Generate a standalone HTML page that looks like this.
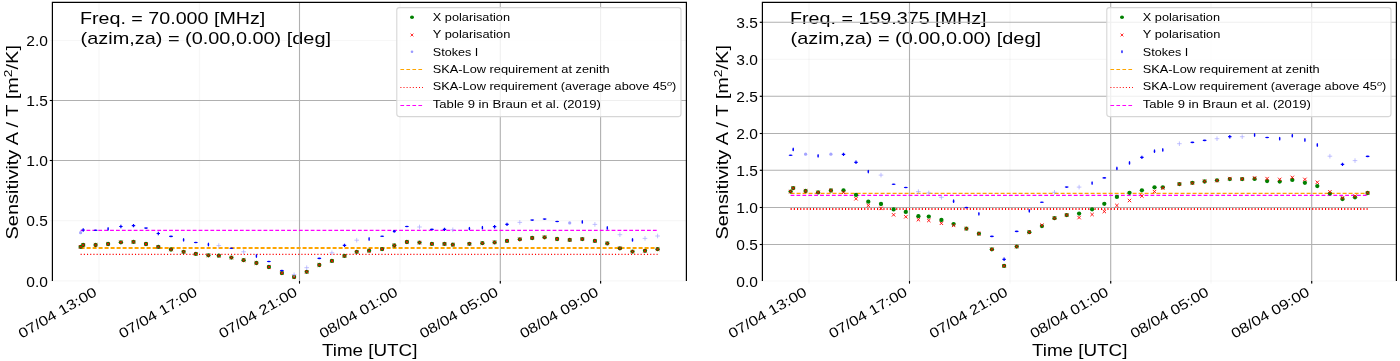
<!DOCTYPE html>
<html><head><meta charset="utf-8"><title>Sensitivity</title><style>html,body{margin:0;padding:0;background:#fff;}svg{display:block;will-change:transform;}</style></head><body>
<svg width="1400" height="361" viewBox="0 0 1400 361" font-family='"Liberation Sans", sans-serif' fill="#000">
<rect width="1400" height="361" fill="#fff"/>
<text x="80" y="23.6" font-size="17" text-anchor="start" textLength="185.3" lengthAdjust="spacingAndGlyphs" >Freq. = 70.000 [MHz]</text>
<text x="80.6" y="43.5" font-size="17" text-anchor="start" textLength="250.4" lengthAdjust="spacingAndGlyphs" >(azim,za) = (0.00,0.00) [deg]</text>
<path d="M49.8 280.9H686.4" stroke="#b0b0b0" stroke-opacity="0.1" stroke-width="1.1"/>
<path d="M49.8 220.6H686.4" stroke="#b0b0b0" stroke-opacity="0.1" stroke-width="1.1"/>
<path d="M49.8 160.5H686.4" stroke="#b0b0b0" stroke-width="1.1"/>
<path d="M49.8 160.5H52.4" stroke="#000" stroke-width="1.1"/>
<path d="M49.8 100.5H686.4" stroke="#b0b0b0" stroke-width="1.1"/>
<path d="M49.8 100.5H52.4" stroke="#000" stroke-width="1.1"/>
<path d="M49.8 40.5H686.4" stroke="#b0b0b0" stroke-opacity="0.1" stroke-width="1.1"/>
<path d="M99 2.4V283.6" stroke="#b0b0b0" stroke-opacity="0.1" stroke-width="1.1"/>
<path d="M199.5 2.4V283.6" stroke="#b0b0b0" stroke-opacity="0.1" stroke-width="1.1"/>
<path d="M299.5 2.4V283.6" stroke="#b0b0b0" stroke-width="1.1"/>
<path d="M299.5 281V283.6" stroke="#000" stroke-width="1.1"/>
<path d="M400 2.4V283.6" stroke="#b0b0b0" stroke-opacity="0.1" stroke-width="1.1"/>
<path d="M500.3 2.4V283.6" stroke="#b0b0b0" stroke-width="1.1"/>
<path d="M500.3 281V283.6" stroke="#000" stroke-width="1.1"/>
<path d="M600.6 2.4V283.6" stroke="#b0b0b0" stroke-width="1.1"/>
<path d="M600.6 281V283.6" stroke="#000" stroke-width="1.1"/>
<path d="M52.4 281V2.4H686.4V281" fill="none" stroke="#000" stroke-width="1.2"/>
<path d="M80.6 247.9H657.6" stroke="#ffa500" stroke-width="2.0" stroke-dasharray="4 2"/>
<path d="M80.6 254.4H657.6" stroke="#ff0000" stroke-width="1.1" stroke-dasharray="1.1 2.1"/>
<path d="M80.6 230.4H657.6" stroke="#ff00ff" stroke-width="1.1" stroke-dasharray="3.8 2.1"/>
<circle cx="80.6" cy="246.9" r="2.15" fill="#008000"/>
<path d="M78.9 245.2L82.3 248.6M78.9 248.6L82.3 245.2" stroke="#ff0000" stroke-width="0.9"/>
<circle cx="80.6" cy="232.7" r="1.6" fill="#a4a4ff"/>
<circle cx="83.2" cy="245" r="2.15" fill="#008000"/>
<path d="M81.5 243.3L84.9 246.7M81.5 246.7L84.9 243.3" stroke="#ff0000" stroke-width="0.9"/>
<path d="M81.5 230H84.9M83.2 228.3V231.7" stroke="#0000ff" stroke-width="1.2"/>
<circle cx="95.6" cy="245" r="2.15" fill="#008000"/>
<path d="M93.9 243.3L97.3 246.7M93.9 246.7L97.3 243.3" stroke="#ff0000" stroke-width="0.9"/>
<ellipse cx="95.6" cy="230.3" rx="2" ry="0.8" fill="#0000ff"/>
<circle cx="108.1" cy="244" r="2.15" fill="#008000"/>
<path d="M106.4 242.3L109.8 245.7M106.4 245.7L109.8 242.3" stroke="#ff0000" stroke-width="0.9"/>
<ellipse cx="108.1" cy="228.8" rx="0.8" ry="1.9" fill="#0000ff"/>
<circle cx="120.9" cy="242.3" r="2.15" fill="#008000"/>
<path d="M119.2 240.6L122.6 244M119.2 244L122.6 240.6" stroke="#ff0000" stroke-width="0.9"/>
<path d="M119.2 226.5H122.6M120.9 224.8V228.2" stroke="#0000ff" stroke-width="1.2"/>
<circle cx="133.5" cy="241.9" r="2.15" fill="#008000"/>
<path d="M131.8 240.2L135.2 243.6M131.8 243.6L135.2 240.2" stroke="#ff0000" stroke-width="0.9"/>
<path d="M131.8 225.6H135.2M133.5 223.9V227.3" stroke="#0000ff" stroke-width="1.2"/>
<circle cx="146" cy="244" r="2.15" fill="#008000"/>
<path d="M144.3 242.3L147.7 245.7M144.3 245.7L147.7 242.3" stroke="#ff0000" stroke-width="0.9"/>
<ellipse cx="146" cy="228.1" rx="2" ry="0.8" fill="#0000ff"/>
<circle cx="158.3" cy="246.9" r="2.15" fill="#008000"/>
<path d="M156.6 245.2L160 248.6M156.6 248.6L160 245.2" stroke="#ff0000" stroke-width="0.9"/>
<path d="M156.6 233.5H160M158.3 231.8V235.2" stroke="#0000ff" stroke-width="1.2"/>
<circle cx="171" cy="249.5" r="2.15" fill="#008000"/>
<path d="M169.3 247.8L172.7 251.2M169.3 251.2L172.7 247.8" stroke="#ff0000" stroke-width="0.9"/>
<ellipse cx="171" cy="236.4" rx="2" ry="0.8" fill="#0000ff"/>
<circle cx="183.6" cy="251.8" r="2.15" fill="#008000"/>
<path d="M181.9 250.1L185.3 253.5M181.9 253.5L185.3 250.1" stroke="#ff0000" stroke-width="0.9"/>
<ellipse cx="183.6" cy="239.8" rx="0.8" ry="1.9" fill="#0000ff"/>
<circle cx="195.8" cy="253.8" r="2.15" fill="#008000"/>
<path d="M194.1 252.1L197.5 255.5M194.1 255.5L197.5 252.1" stroke="#ff0000" stroke-width="0.9"/>
<ellipse cx="195.8" cy="242.5" rx="2" ry="0.8" fill="#0000ff"/>
<circle cx="208.4" cy="255.3" r="2.15" fill="#008000"/>
<path d="M206.7 253.6L210.1 257M206.7 257L210.1 253.6" stroke="#ff0000" stroke-width="0.9"/>
<ellipse cx="208.4" cy="244.5" rx="0.8" ry="1.9" fill="#0000ff"/>
<circle cx="218.8" cy="255.7" r="2.15" fill="#008000"/>
<path d="M217.1 254L220.5 257.4M217.1 257.4L220.5 254" stroke="#ff0000" stroke-width="0.9"/>
<path d="M216.5 245.6H221.1M218.8 243.3V247.9" stroke="#a8a8ff" stroke-width="0.7"/>
<circle cx="231.4" cy="257.6" r="2.15" fill="#008000"/>
<path d="M229.7 255.9L233.1 259.3M229.7 259.3L233.1 255.9" stroke="#ff0000" stroke-width="0.9"/>
<ellipse cx="231.4" cy="248.3" rx="2" ry="0.8" fill="#0000ff"/>
<circle cx="243.6" cy="260.2" r="2.15" fill="#008000"/>
<path d="M241.9 258.5L245.3 261.9M241.9 261.9L245.3 258.5" stroke="#ff0000" stroke-width="0.9"/>
<path d="M241.3 251.8H245.9M243.6 249.5V254.1" stroke="#a8a8ff" stroke-width="0.7"/>
<circle cx="256.4" cy="263" r="2.15" fill="#008000"/>
<path d="M254.7 261.3L258.1 264.7M254.7 264.7L258.1 261.3" stroke="#ff0000" stroke-width="0.9"/>
<ellipse cx="256.4" cy="256" rx="0.8" ry="1.9" fill="#0000ff"/>
<circle cx="268.9" cy="267" r="2.15" fill="#008000"/>
<path d="M267.2 265.3L270.6 268.7M267.2 268.7L270.6 265.3" stroke="#ff0000" stroke-width="0.9"/>
<ellipse cx="268.9" cy="261.5" rx="2" ry="0.8" fill="#0000ff"/>
<circle cx="281.9" cy="273.1" r="2.15" fill="#008000"/>
<path d="M280.2 271.4L283.6 274.8M280.2 274.8L283.6 271.4" stroke="#ff0000" stroke-width="0.9"/>
<ellipse cx="281.9" cy="270.6" rx="2" ry="0.8" fill="#0000ff"/>
<circle cx="294.1" cy="277" r="2.15" fill="#008000"/>
<path d="M292.4 275.3L295.8 278.7M292.4 278.7L295.8 275.3" stroke="#ff0000" stroke-width="0.9"/>
<path d="M291.8 274.7H296.4M294.1 272.4V277" stroke="#a8a8ff" stroke-width="0.7"/>
<circle cx="306.7" cy="271.8" r="2.15" fill="#008000"/>
<path d="M305 270.1L308.4 273.5M305 273.5L308.4 270.1" stroke="#ff0000" stroke-width="0.9"/>
<path d="M304.4 267.7H309M306.7 265.4V270" stroke="#a8a8ff" stroke-width="0.7"/>
<circle cx="319.3" cy="265" r="2.15" fill="#008000"/>
<path d="M317.6 263.3L321 266.7M317.6 266.7L321 263.3" stroke="#ff0000" stroke-width="0.9"/>
<ellipse cx="319.3" cy="258.4" rx="2" ry="0.8" fill="#0000ff"/>
<circle cx="331.9" cy="260.9" r="2.15" fill="#008000"/>
<path d="M330.2 259.2L333.6 262.6M330.2 262.6L333.6 259.2" stroke="#ff0000" stroke-width="0.9"/>
<path d="M329.6 252.8H334.2M331.9 250.5V255.1" stroke="#a8a8ff" stroke-width="0.7"/>
<circle cx="344.5" cy="255.9" r="2.15" fill="#008000"/>
<path d="M342.8 254.2L346.2 257.6M342.8 257.6L346.2 254.2" stroke="#ff0000" stroke-width="0.9"/>
<path d="M342.8 245.4H346.2M344.5 243.7V247.1" stroke="#0000ff" stroke-width="1.2"/>
<circle cx="356.7" cy="251.8" r="2.15" fill="#008000"/>
<path d="M355 250.1L358.4 253.5M355 253.5L358.4 250.1" stroke="#ff0000" stroke-width="0.9"/>
<path d="M354.4 240.2H359M356.7 237.9V242.5" stroke="#a8a8ff" stroke-width="0.7"/>
<circle cx="369.1" cy="250.7" r="2.15" fill="#008000"/>
<path d="M367.4 249L370.8 252.4M367.4 252.4L370.8 249" stroke="#ff0000" stroke-width="0.9"/>
<ellipse cx="369.1" cy="239" rx="0.8" ry="1.9" fill="#0000ff"/>
<circle cx="382.1" cy="249.1" r="2.15" fill="#008000"/>
<path d="M380.4 247.4L383.8 250.8M380.4 250.8L383.8 247.4" stroke="#ff0000" stroke-width="0.9"/>
<ellipse cx="382.1" cy="236.2" rx="2" ry="0.8" fill="#0000ff"/>
<circle cx="394.3" cy="245.5" r="2.15" fill="#008000"/>
<path d="M392.6 243.8L396 247.2M392.6 247.2L396 243.8" stroke="#ff0000" stroke-width="0.9"/>
<ellipse cx="394.3" cy="231.3" rx="1.4" ry="1.4" fill="#0000ff"/>
<circle cx="406.9" cy="242" r="2.15" fill="#008000"/>
<path d="M405.2 240.3L408.6 243.7M405.2 243.7L408.6 240.3" stroke="#ff0000" stroke-width="0.9"/>
<ellipse cx="406.9" cy="226.5" rx="2" ry="0.8" fill="#0000ff"/>
<circle cx="419.5" cy="242.6" r="2.15" fill="#008000"/>
<path d="M417.8 240.9L421.2 244.3M417.8 244.3L421.2 240.9" stroke="#ff0000" stroke-width="0.9"/>
<path d="M417.2 227H421.8M419.5 224.7V229.3" stroke="#a8a8ff" stroke-width="0.7"/>
<circle cx="431.9" cy="243.9" r="2.15" fill="#008000"/>
<path d="M430.2 242.2L433.6 245.6M430.2 245.6L433.6 242.2" stroke="#ff0000" stroke-width="0.9"/>
<ellipse cx="431.9" cy="229.4" rx="2" ry="0.8" fill="#0000ff"/>
<circle cx="444.5" cy="243.9" r="2.15" fill="#008000"/>
<path d="M442.8 242.2L446.2 245.6M442.8 245.6L446.2 242.2" stroke="#ff0000" stroke-width="0.9"/>
<path d="M442.8 229.4H446.2M444.5 227.7V231.1" stroke="#0000ff" stroke-width="1.2"/>
<circle cx="452.8" cy="244.7" r="2.15" fill="#008000"/>
<path d="M451.1 243L454.5 246.4M451.1 246.4L454.5 243" stroke="#ff0000" stroke-width="0.9"/>
<path d="M450.5 229.8H455.1M452.8 227.5V232.1" stroke="#a8a8ff" stroke-width="0.7"/>
<circle cx="469.4" cy="243.8" r="2.15" fill="#008000"/>
<path d="M467.7 242.1L471.1 245.5M467.7 245.5L471.1 242.1" stroke="#ff0000" stroke-width="0.9"/>
<ellipse cx="469.4" cy="228.6" rx="0.8" ry="1.9" fill="#0000ff"/>
<circle cx="482.4" cy="243.2" r="2.15" fill="#008000"/>
<path d="M480.7 241.5L484.1 244.9M480.7 244.9L484.1 241.5" stroke="#ff0000" stroke-width="0.9"/>
<ellipse cx="482.4" cy="227.7" rx="0.8" ry="1.9" fill="#0000ff"/>
<circle cx="494.6" cy="242.4" r="2.15" fill="#008000"/>
<path d="M492.9 240.7L496.3 244.1M492.9 244.1L496.3 240.7" stroke="#ff0000" stroke-width="0.9"/>
<path d="M492.9 226.7H496.3M494.6 225V228.4" stroke="#0000ff" stroke-width="1.2"/>
<circle cx="507" cy="240.9" r="2.15" fill="#008000"/>
<path d="M505.3 239.2L508.7 242.6M505.3 242.6L508.7 239.2" stroke="#ff0000" stroke-width="0.9"/>
<path d="M505.3 224.4H508.7M507 222.7V226.1" stroke="#0000ff" stroke-width="1.2"/>
<circle cx="519.8" cy="239.3" r="2.15" fill="#008000"/>
<path d="M518.1 237.6L521.5 241M518.1 241L521.5 237.6" stroke="#ff0000" stroke-width="0.9"/>
<path d="M517.5 222.4H522.1M519.8 220.1V224.7" stroke="#a8a8ff" stroke-width="0.7"/>
<circle cx="532.2" cy="238" r="2.15" fill="#008000"/>
<path d="M530.5 236.3L533.9 239.7M530.5 239.7L533.9 236.3" stroke="#ff0000" stroke-width="0.9"/>
<ellipse cx="532.2" cy="220.1" rx="2" ry="0.8" fill="#0000ff"/>
<circle cx="544.6" cy="237.3" r="2.15" fill="#008000"/>
<path d="M542.9 235.6L546.3 239M542.9 239L546.3 235.6" stroke="#ff0000" stroke-width="0.9"/>
<ellipse cx="544.6" cy="219.1" rx="2" ry="0.8" fill="#0000ff"/>
<circle cx="557.1" cy="239" r="2.15" fill="#008000"/>
<path d="M555.4 237.3L558.8 240.7M555.4 240.7L558.8 237.3" stroke="#ff0000" stroke-width="0.9"/>
<ellipse cx="557.1" cy="221.5" rx="2" ry="0.8" fill="#0000ff"/>
<circle cx="569.7" cy="239.9" r="2.15" fill="#008000"/>
<path d="M568 238.2L571.4 241.6M568 241.6L571.4 238.2" stroke="#ff0000" stroke-width="0.9"/>
<circle cx="569.7" cy="222.9" r="1.6" fill="#a4a4ff"/>
<circle cx="582.3" cy="239.1" r="2.15" fill="#008000"/>
<path d="M580.6 237.4L584 240.8M580.6 240.8L584 237.4" stroke="#ff0000" stroke-width="0.9"/>
<ellipse cx="582.3" cy="221.9" rx="0.8" ry="1.9" fill="#0000ff"/>
<circle cx="594.9" cy="240.9" r="2.15" fill="#008000"/>
<path d="M593.2 239.2L596.6 242.6M593.2 242.6L596.6 239.2" stroke="#ff0000" stroke-width="0.9"/>
<path d="M592.6 224.4H597.2M594.9 222.1V226.7" stroke="#a8a8ff" stroke-width="0.7"/>
<circle cx="607.3" cy="243.4" r="2.15" fill="#008000"/>
<path d="M605.6 241.7L609 245.1M605.6 245.1L609 241.7" stroke="#ff0000" stroke-width="0.9"/>
<ellipse cx="607.3" cy="227.9" rx="0.8" ry="1.9" fill="#0000ff"/>
<circle cx="619.9" cy="248.3" r="2.15" fill="#008000"/>
<path d="M618.2 246.6L621.6 250M618.2 250L621.6 246.6" stroke="#ff0000" stroke-width="0.9"/>
<path d="M617.6 234.7H622.2M619.9 232.4V237" stroke="#a8a8ff" stroke-width="0.7"/>
<circle cx="632.5" cy="251.6" r="2.15" fill="#008000"/>
<path d="M630.8 249.9L634.2 253.3M630.8 253.3L634.2 249.9" stroke="#ff0000" stroke-width="0.9"/>
<ellipse cx="632.5" cy="239.9" rx="0.8" ry="1.9" fill="#0000ff"/>
<circle cx="645" cy="250.8" r="2.15" fill="#008000"/>
<path d="M643.3 249.1L646.7 252.5M643.3 252.5L646.7 249.1" stroke="#ff0000" stroke-width="0.9"/>
<path d="M642.7 238.4H647.3M645 236.1V240.7" stroke="#a8a8ff" stroke-width="0.7"/>
<circle cx="657.6" cy="249.2" r="2.15" fill="#008000"/>
<path d="M655.9 247.5L659.3 250.9M655.9 250.9L659.3 247.5" stroke="#ff0000" stroke-width="0.9"/>
<path d="M655.3 236H659.9M657.6 233.7V238.3" stroke="#a8a8ff" stroke-width="0.7"/>
<rect x="396.8" y="7.6" width="284.2" height="109" rx="2.5" fill="#fff" fill-opacity="0.8" stroke="#d6d6d6" stroke-width="1.1"/>
<text x="432.8" y="21" font-size="11.1" text-anchor="start" textLength="77.2" lengthAdjust="spacingAndGlyphs" >X polarisation</text>
<text x="432.8" y="38.4" font-size="11.1" text-anchor="start" textLength="77.5" lengthAdjust="spacingAndGlyphs" >Y polarisation</text>
<text x="432.8" y="55.6" font-size="11.1" text-anchor="start" textLength="45.5" lengthAdjust="spacingAndGlyphs" >Stokes I</text>
<text x="432.8" y="72.9" font-size="11.1" text-anchor="start" textLength="176.8" lengthAdjust="spacingAndGlyphs" >SKA-Low requirement at zenith</text>
<text x="432.8" y="90.2" font-size="11.1" text-anchor="start" textLength="243.5" lengthAdjust="spacingAndGlyphs" >SKA-Low requirement (average above 45<tspan font-size="8" dy="-4" font-style="italic">o</tspan><tspan dy="4">)</tspan></text>
<text x="432.8" y="107.5" font-size="11.1" text-anchor="start" textLength="168" lengthAdjust="spacingAndGlyphs" >Table 9 in Braun et al. (2019)</text>
<ellipse cx="412" cy="17.3" rx="2.0" ry="1.7" fill="#008000"/>
<path d="M410.6 33.6L413.4 36.4M410.6 36.4L413.4 33.6" stroke="#ff0000" stroke-width="0.8"/>
<circle cx="412" cy="51.7" r="1.3" fill="#9a9aff"/>
<path d="M400.4 69.5H423" transform="translate(0 0)" stroke="#ffa500" stroke-width="1" stroke-dasharray="3.7 2.3"/>
<path d="M400.4 87.5H423" transform="translate(0 0)" stroke="#ff0000" stroke-width="1" stroke-dasharray="1 2.1"/>
<path d="M400.4 105.5H423" transform="translate(0 0)" stroke="#ff00ff" stroke-width="1" stroke-dasharray="3.7 2.3"/>
<text x="47.9" y="286.5" font-size="14.3" text-anchor="end" textLength="21.6" lengthAdjust="spacingAndGlyphs" >0.0</text>
<text x="47.9" y="226.2" font-size="14.3" text-anchor="end" textLength="21.6" lengthAdjust="spacingAndGlyphs" >0.5</text>
<text x="47.9" y="166.1" font-size="14.3" text-anchor="end" textLength="21.6" lengthAdjust="spacingAndGlyphs" >1.0</text>
<text x="47.9" y="106.1" font-size="14.3" text-anchor="end" textLength="21.6" lengthAdjust="spacingAndGlyphs" >1.5</text>
<text x="47.9" y="46.1" font-size="14.3" text-anchor="end" textLength="21.6" lengthAdjust="spacingAndGlyphs" >2.0</text>
<text x="97.9" y="294.8" font-size="13.9" text-anchor="end" textLength="88" lengthAdjust="spacingAndGlyphs" transform="rotate(-30 97.9 294.8)">07/04 13:00</text>
<text x="198.4" y="294.8" font-size="13.9" text-anchor="end" textLength="88" lengthAdjust="spacingAndGlyphs" transform="rotate(-30 198.4 294.8)">07/04 17:00</text>
<text x="298.4" y="294.8" font-size="13.9" text-anchor="end" textLength="88" lengthAdjust="spacingAndGlyphs" transform="rotate(-30 298.4 294.8)">07/04 21:00</text>
<text x="398.9" y="294.8" font-size="13.9" text-anchor="end" textLength="88" lengthAdjust="spacingAndGlyphs" transform="rotate(-30 398.9 294.8)">08/04 01:00</text>
<text x="499.2" y="294.8" font-size="13.9" text-anchor="end" textLength="88" lengthAdjust="spacingAndGlyphs" transform="rotate(-30 499.2 294.8)">08/04 05:00</text>
<text x="599.5" y="294.8" font-size="13.9" text-anchor="end" textLength="88" lengthAdjust="spacingAndGlyphs" transform="rotate(-30 599.5 294.8)">08/04 09:00</text>
<text x="369.7" y="356.4" font-size="17.2" text-anchor="middle" textLength="95.5" lengthAdjust="spacingAndGlyphs" >Time [UTC]</text>
<text x="18.5" y="142.3" font-size="16.67" text-anchor="middle" textLength="194.5" lengthAdjust="spacingAndGlyphs" transform="rotate(-90 18.5 142.3)">Sensitivity A / T [m<tspan font-size="11.5" dy="-6">2</tspan><tspan dy="6">/K]</tspan></text>
<text x="790" y="23.6" font-size="17" text-anchor="start" textLength="196.5" lengthAdjust="spacingAndGlyphs" >Freq. = 159.375 [MHz]</text>
<text x="790.6" y="43.5" font-size="17" text-anchor="start" textLength="250.4" lengthAdjust="spacingAndGlyphs" >(azim,za) = (0.00,0.00) [deg]</text>
<path d="M759.8 281H1396.4" stroke="#b0b0b0" stroke-opacity="0.1" stroke-width="1.1"/>
<path d="M759.8 244.5H1396.4" stroke="#b0b0b0" stroke-width="1.1"/>
<path d="M759.8 244.5H762.4" stroke="#000" stroke-width="1.1"/>
<path d="M759.8 207.5H1396.4" stroke="#b0b0b0" stroke-width="1.1"/>
<path d="M759.8 207.5H762.4" stroke="#000" stroke-width="1.1"/>
<path d="M759.8 170.3H1396.4" stroke="#b0b0b0" stroke-width="1.1"/>
<path d="M759.8 170.3H762.4" stroke="#000" stroke-width="1.1"/>
<path d="M759.8 133.5H1396.4" stroke="#b0b0b0" stroke-width="1.1"/>
<path d="M759.8 133.5H762.4" stroke="#000" stroke-width="1.1"/>
<path d="M759.8 96.3H1396.4" stroke="#b0b0b0" stroke-width="1.1"/>
<path d="M759.8 96.3H762.4" stroke="#000" stroke-width="1.1"/>
<path d="M759.8 59.4H1396.4" stroke="#b0b0b0" stroke-opacity="0.1" stroke-width="1.1"/>
<path d="M759.8 22.3H1396.4" stroke="#b0b0b0" stroke-width="1.1"/>
<path d="M759.8 22.3H762.4" stroke="#000" stroke-width="1.1"/>
<path d="M809 2.4V283.6" stroke="#b0b0b0" stroke-opacity="0.1" stroke-width="1.1"/>
<path d="M909.5 2.4V283.6" stroke="#b0b0b0" stroke-width="1.1"/>
<path d="M909.5 281V283.6" stroke="#000" stroke-width="1.1"/>
<path d="M1010 2.4V283.6" stroke="#b0b0b0" stroke-opacity="0.1" stroke-width="1.1"/>
<path d="M1110.7 2.4V283.6" stroke="#b0b0b0" stroke-width="1.1"/>
<path d="M1110.7 281V283.6" stroke="#000" stroke-width="1.1"/>
<path d="M1211 2.4V283.6" stroke="#b0b0b0" stroke-opacity="0.1" stroke-width="1.1"/>
<path d="M1311.7 2.4V283.6" stroke="#b0b0b0" stroke-width="1.1"/>
<path d="M1311.7 281V283.6" stroke="#000" stroke-width="1.1"/>
<path d="M762.4 281V2.4H1396.4V281" fill="none" stroke="#000" stroke-width="1.2"/>
<path d="M790.6 193.4H1367.6" stroke="#ffa500" stroke-width="1.1" stroke-dasharray="4 2"/>
<path d="M790.6 209H1367.6" stroke="#ff0000" stroke-width="2.0" stroke-dasharray="1.1 2.1"/>
<path d="M790.6 195.4H1367.6" stroke="#ff00ff" stroke-width="1.1" stroke-dasharray="3.8 2.1"/>
<circle cx="790.6" cy="191.6" r="2.15" fill="#008000"/>
<path d="M788.9 189.9L792.3 193.3M788.9 193.3L792.3 189.9" stroke="#ff0000" stroke-width="0.9"/>
<ellipse cx="790.6" cy="155.2" rx="2" ry="0.8" fill="#0000ff"/>
<circle cx="793.2" cy="188.1" r="2.15" fill="#008000"/>
<path d="M791.5 186.4L794.9 189.8M791.5 189.8L794.9 186.4" stroke="#ff0000" stroke-width="0.9"/>
<ellipse cx="793.2" cy="149.4" rx="0.8" ry="1.9" fill="#0000ff"/>
<circle cx="805.6" cy="191" r="2.15" fill="#008000"/>
<path d="M803.9 189.3L807.3 192.7M803.9 192.7L807.3 189.3" stroke="#ff0000" stroke-width="0.9"/>
<circle cx="805.6" cy="154.2" r="1.6" fill="#a4a4ff"/>
<circle cx="818.1" cy="192.4" r="2.15" fill="#008000"/>
<path d="M816.4 190.7L819.8 194.1M816.4 194.1L819.8 190.7" stroke="#ff0000" stroke-width="0.9"/>
<ellipse cx="818.1" cy="155.8" rx="0.8" ry="1.9" fill="#0000ff"/>
<circle cx="830.9" cy="190.5" r="2.15" fill="#008000"/>
<path d="M829.2 188.8L832.6 192.2M829.2 192.2L832.6 188.8" stroke="#ff0000" stroke-width="0.9"/>
<circle cx="830.9" cy="154.2" r="1.6" fill="#a4a4ff"/>
<circle cx="843.5" cy="190.5" r="2.15" fill="#008000"/>
<path d="M841.8 190.7L845.2 194.1M841.8 194.1L845.2 190.7" stroke="#ff0000" stroke-width="0.9"/>
<path d="M841.8 154.4H845.2M843.5 152.7V156.1" stroke="#0000ff" stroke-width="1.2"/>
<circle cx="856" cy="194.9" r="2.15" fill="#008000"/>
<path d="M854.3 197.1L857.7 200.5M854.3 200.5L857.7 197.1" stroke="#ff0000" stroke-width="0.9"/>
<path d="M854.3 162.3H857.7M856 160.6V164" stroke="#0000ff" stroke-width="1.2"/>
<circle cx="868.3" cy="201.7" r="2.15" fill="#008000"/>
<path d="M866.6 203.8L870 207.2M866.6 207.2L870 203.8" stroke="#ff0000" stroke-width="0.9"/>
<ellipse cx="868.3" cy="171.6" rx="0.8" ry="1.9" fill="#0000ff"/>
<circle cx="881" cy="204" r="2.15" fill="#008000"/>
<path d="M879.3 206.7L882.7 210.1M879.3 210.1L882.7 206.7" stroke="#ff0000" stroke-width="0.9"/>
<path d="M878.7 175.1H883.3M881 172.8V177.4" stroke="#a8a8ff" stroke-width="0.7"/>
<circle cx="893.6" cy="209.4" r="2.15" fill="#008000"/>
<path d="M891.9 213.1L895.3 216.5M891.9 216.5L895.3 213.1" stroke="#ff0000" stroke-width="0.9"/>
<ellipse cx="893.6" cy="184.2" rx="2" ry="0.8" fill="#0000ff"/>
<circle cx="905.8" cy="211.9" r="2.15" fill="#008000"/>
<path d="M904.1 215.1L907.5 218.5M904.1 218.5L907.5 215.1" stroke="#ff0000" stroke-width="0.9"/>
<ellipse cx="905.8" cy="187.5" rx="2" ry="0.8" fill="#0000ff"/>
<circle cx="918.4" cy="216.2" r="2.15" fill="#008000"/>
<path d="M916.7 218L920.1 221.4M916.7 221.4L920.1 218" stroke="#ff0000" stroke-width="0.9"/>
<path d="M916.1 191.6H920.7M918.4 189.3V193.9" stroke="#a8a8ff" stroke-width="0.7"/>
<circle cx="928.8" cy="216.6" r="2.15" fill="#008000"/>
<path d="M927.1 218.8L930.5 222.2M927.1 222.2L930.5 218.8" stroke="#ff0000" stroke-width="0.9"/>
<path d="M926.5 192.9H931.1M928.8 190.6V195.2" stroke="#a8a8ff" stroke-width="0.7"/>
<circle cx="941.4" cy="220" r="2.15" fill="#008000"/>
<path d="M939.7 221.6L943.1 225M939.7 225L943.1 221.6" stroke="#ff0000" stroke-width="0.9"/>
<path d="M939.1 197.3H943.7M941.4 195V199.6" stroke="#a8a8ff" stroke-width="0.7"/>
<circle cx="953.6" cy="224.1" r="2.15" fill="#008000"/>
<path d="M951.9 223.7L955.3 227.1M951.9 227.1L955.3 223.7" stroke="#ff0000" stroke-width="0.9"/>
<ellipse cx="953.6" cy="201.2" rx="0.8" ry="1.9" fill="#0000ff"/>
<circle cx="966.4" cy="228.7" r="2.15" fill="#008000"/>
<path d="M964.7 227L968.1 230.4M964.7 230.4L968.1 227" stroke="#ff0000" stroke-width="0.9"/>
<ellipse cx="966.4" cy="207.6" rx="2" ry="0.8" fill="#0000ff"/>
<circle cx="978.9" cy="233.7" r="2.15" fill="#008000"/>
<path d="M977.2 232L980.6 235.4M977.2 235.4L980.6 232" stroke="#ff0000" stroke-width="0.9"/>
<ellipse cx="978.9" cy="213.8" rx="0.8" ry="1.9" fill="#0000ff"/>
<circle cx="991.9" cy="249.3" r="2.15" fill="#008000"/>
<path d="M990.2 247.6L993.6 251M990.2 251L993.6 247.6" stroke="#ff0000" stroke-width="0.9"/>
<ellipse cx="991.9" cy="236.4" rx="2" ry="0.8" fill="#0000ff"/>
<circle cx="1004.1" cy="265.9" r="2.15" fill="#008000"/>
<path d="M1002.4 264.2L1005.8 267.6M1002.4 267.6L1005.8 264.2" stroke="#ff0000" stroke-width="0.9"/>
<path d="M1002.4 259.3H1005.8M1004.1 257.6V261" stroke="#0000ff" stroke-width="1.2"/>
<circle cx="1016.7" cy="246.6" r="2.15" fill="#008000"/>
<path d="M1015 244.9L1018.4 248.3M1015 248.3L1018.4 244.9" stroke="#ff0000" stroke-width="0.9"/>
<ellipse cx="1016.7" cy="231.4" rx="2" ry="0.8" fill="#0000ff"/>
<circle cx="1029.3" cy="232.2" r="2.15" fill="#008000"/>
<path d="M1027.6 230.5L1031 233.9M1027.6 233.9L1031 230.5" stroke="#ff0000" stroke-width="0.9"/>
<ellipse cx="1029.3" cy="210.8" rx="0.8" ry="1.9" fill="#0000ff"/>
<circle cx="1041.9" cy="226.1" r="2.15" fill="#008000"/>
<path d="M1040.2 223.5L1043.6 226.9M1040.2 226.9L1043.6 223.5" stroke="#ff0000" stroke-width="0.9"/>
<ellipse cx="1041.9" cy="202.3" rx="2" ry="0.8" fill="#0000ff"/>
<circle cx="1054.5" cy="218.2" r="2.15" fill="#008000"/>
<path d="M1052.8 216.5L1056.2 219.9M1052.8 219.9L1056.2 216.5" stroke="#ff0000" stroke-width="0.9"/>
<path d="M1052.2 192.3H1056.8M1054.5 190V194.6" stroke="#a8a8ff" stroke-width="0.7"/>
<circle cx="1066.7" cy="215.1" r="2.15" fill="#008000"/>
<path d="M1065 213.3L1068.4 216.7M1065 216.7L1068.4 213.3" stroke="#ff0000" stroke-width="0.9"/>
<ellipse cx="1066.7" cy="187.1" rx="2" ry="0.8" fill="#0000ff"/>
<circle cx="1079.1" cy="213.6" r="2.15" fill="#008000"/>
<path d="M1077.4 215.9L1080.8 219.3M1077.4 219.3L1080.8 215.9" stroke="#ff0000" stroke-width="0.9"/>
<path d="M1076.8 187.1H1081.4M1079.1 184.8V189.4" stroke="#a8a8ff" stroke-width="0.7"/>
<circle cx="1092.1" cy="209.3" r="2.15" fill="#008000"/>
<path d="M1090.4 212.8L1093.8 216.2M1090.4 216.2L1093.8 212.8" stroke="#ff0000" stroke-width="0.9"/>
<ellipse cx="1092.1" cy="183.1" rx="0.8" ry="1.9" fill="#0000ff"/>
<circle cx="1104.3" cy="203.8" r="2.15" fill="#008000"/>
<path d="M1102.6 209.8L1106 213.2M1102.6 213.2L1106 209.8" stroke="#ff0000" stroke-width="0.9"/>
<ellipse cx="1104.3" cy="177.9" rx="2" ry="0.8" fill="#0000ff"/>
<circle cx="1116.9" cy="196.9" r="2.15" fill="#008000"/>
<path d="M1115.2 203.8L1118.6 207.2M1115.2 207.2L1118.6 203.8" stroke="#ff0000" stroke-width="0.9"/>
<ellipse cx="1116.9" cy="168.4" rx="0.8" ry="1.9" fill="#0000ff"/>
<circle cx="1129.5" cy="192.8" r="2.15" fill="#008000"/>
<path d="M1127.8 198.8L1131.2 202.2M1127.8 202.2L1131.2 198.8" stroke="#ff0000" stroke-width="0.9"/>
<ellipse cx="1129.5" cy="162.9" rx="0.8" ry="1.9" fill="#0000ff"/>
<circle cx="1141.9" cy="190.3" r="2.15" fill="#008000"/>
<path d="M1140.2 194.3L1143.6 197.7M1140.2 197.7L1143.6 194.3" stroke="#ff0000" stroke-width="0.9"/>
<path d="M1140.2 157.4H1143.6M1141.9 155.7V159.1" stroke="#0000ff" stroke-width="1.2"/>
<circle cx="1154.5" cy="187.3" r="2.15" fill="#008000"/>
<path d="M1152.8 189.9L1156.2 193.3M1152.8 193.3L1156.2 189.9" stroke="#ff0000" stroke-width="0.9"/>
<ellipse cx="1154.5" cy="151.2" rx="0.8" ry="1.9" fill="#0000ff"/>
<circle cx="1162.8" cy="187.3" r="2.15" fill="#008000"/>
<path d="M1161.1 186.4L1164.5 189.8M1161.1 189.8L1164.5 186.4" stroke="#ff0000" stroke-width="0.9"/>
<ellipse cx="1162.8" cy="149.9" rx="0.8" ry="1.9" fill="#0000ff"/>
<circle cx="1179.4" cy="184.1" r="2.15" fill="#008000"/>
<path d="M1177.7 182.4L1181.1 185.8M1177.7 185.8L1181.1 182.4" stroke="#ff0000" stroke-width="0.9"/>
<path d="M1177.1 143.7H1181.7M1179.4 141.4V146" stroke="#a8a8ff" stroke-width="0.7"/>
<circle cx="1192.4" cy="182.8" r="2.15" fill="#008000"/>
<path d="M1190.7 181.4L1194.1 184.8M1190.7 184.8L1194.1 181.4" stroke="#ff0000" stroke-width="0.9"/>
<ellipse cx="1192.4" cy="142.4" rx="2" ry="0.8" fill="#0000ff"/>
<circle cx="1204.6" cy="181.5" r="2.15" fill="#008000"/>
<path d="M1202.9 179.6L1206.3 183M1202.9 183L1206.3 179.6" stroke="#ff0000" stroke-width="0.9"/>
<ellipse cx="1204.6" cy="140.4" rx="2" ry="0.8" fill="#0000ff"/>
<circle cx="1217" cy="180.3" r="2.15" fill="#008000"/>
<path d="M1215.3 178.9L1218.7 182.3M1215.3 182.3L1218.7 178.9" stroke="#ff0000" stroke-width="0.9"/>
<path d="M1214.7 138.7H1219.3M1217 136.4V141" stroke="#a8a8ff" stroke-width="0.7"/>
<circle cx="1229.8" cy="179.1" r="2.15" fill="#008000"/>
<path d="M1228.1 176.9L1231.5 180.3M1228.1 180.3L1231.5 176.9" stroke="#ff0000" stroke-width="0.9"/>
<path d="M1228.1 136.7H1231.5M1229.8 135V138.4" stroke="#0000ff" stroke-width="1.2"/>
<circle cx="1242.2" cy="179.1" r="2.15" fill="#008000"/>
<path d="M1240.5 177.2L1243.9 180.6M1240.5 180.6L1243.9 177.2" stroke="#ff0000" stroke-width="0.9"/>
<path d="M1239.9 136.7H1244.5M1242.2 134.4V139" stroke="#a8a8ff" stroke-width="0.7"/>
<circle cx="1254.6" cy="178.9" r="2.15" fill="#008000"/>
<path d="M1252.9 176.2L1256.3 179.6M1252.9 179.6L1256.3 176.2" stroke="#ff0000" stroke-width="0.9"/>
<ellipse cx="1254.6" cy="135" rx="0.8" ry="1.9" fill="#0000ff"/>
<circle cx="1267.1" cy="181.1" r="2.15" fill="#008000"/>
<path d="M1265.4 176.9L1268.8 180.3M1265.4 180.3L1268.8 176.9" stroke="#ff0000" stroke-width="0.9"/>
<ellipse cx="1267.1" cy="137.5" rx="2" ry="0.8" fill="#0000ff"/>
<circle cx="1279.7" cy="181.6" r="2.15" fill="#008000"/>
<path d="M1278 177.7L1281.4 181.1M1278 181.1L1281.4 177.7" stroke="#ff0000" stroke-width="0.9"/>
<ellipse cx="1279.7" cy="138.7" rx="0.8" ry="1.9" fill="#0000ff"/>
<circle cx="1292.3" cy="179.9" r="2.15" fill="#008000"/>
<path d="M1290.6 175.7L1294 179.1M1290.6 179.1L1294 175.7" stroke="#ff0000" stroke-width="0.9"/>
<ellipse cx="1292.3" cy="135.7" rx="0.8" ry="1.9" fill="#0000ff"/>
<circle cx="1304.9" cy="182.8" r="2.15" fill="#008000"/>
<path d="M1303.2 177.7L1306.6 181.1M1303.2 181.1L1306.6 177.7" stroke="#ff0000" stroke-width="0.9"/>
<ellipse cx="1304.9" cy="140" rx="0.8" ry="1.9" fill="#0000ff"/>
<circle cx="1317.3" cy="186.1" r="2.15" fill="#008000"/>
<path d="M1315.6 180.6L1319 184M1315.6 184L1319 180.6" stroke="#ff0000" stroke-width="0.9"/>
<ellipse cx="1317.3" cy="145" rx="0.8" ry="1.9" fill="#0000ff"/>
<circle cx="1329.9" cy="193.6" r="2.15" fill="#008000"/>
<path d="M1328.2 190.1L1331.6 193.5M1328.2 193.5L1331.6 190.1" stroke="#ff0000" stroke-width="0.9"/>
<path d="M1327.6 156.2H1332.2M1329.9 153.9V158.5" stroke="#a8a8ff" stroke-width="0.7"/>
<circle cx="1342.5" cy="199" r="2.15" fill="#008000"/>
<path d="M1340.8 196.1L1344.2 199.5M1340.8 199.5L1344.2 196.1" stroke="#ff0000" stroke-width="0.9"/>
<path d="M1340.8 164.4H1344.2M1342.5 162.7V166.1" stroke="#0000ff" stroke-width="1.2"/>
<circle cx="1355" cy="197.3" r="2.15" fill="#008000"/>
<path d="M1353.3 194.4L1356.7 197.8M1353.3 197.8L1356.7 194.4" stroke="#ff0000" stroke-width="0.9"/>
<path d="M1352.7 160.6H1357.3M1355 158.3V162.9" stroke="#a8a8ff" stroke-width="0.7"/>
<circle cx="1367.6" cy="193" r="2.15" fill="#008000"/>
<path d="M1365.9 191.1L1369.3 194.5M1365.9 194.5L1369.3 191.1" stroke="#ff0000" stroke-width="0.9"/>
<ellipse cx="1367.6" cy="156.4" rx="2" ry="0.8" fill="#0000ff"/>
<rect x="1106.8" y="7.6" width="284.2" height="109" rx="2.5" fill="#fff" fill-opacity="0.8" stroke="#d6d6d6" stroke-width="1.1"/>
<text x="1142.8" y="21" font-size="11.1" text-anchor="start" textLength="77.2" lengthAdjust="spacingAndGlyphs" >X polarisation</text>
<text x="1142.8" y="38.4" font-size="11.1" text-anchor="start" textLength="77.5" lengthAdjust="spacingAndGlyphs" >Y polarisation</text>
<text x="1142.8" y="55.6" font-size="11.1" text-anchor="start" textLength="45.5" lengthAdjust="spacingAndGlyphs" >Stokes I</text>
<text x="1142.8" y="72.9" font-size="11.1" text-anchor="start" textLength="176.8" lengthAdjust="spacingAndGlyphs" >SKA-Low requirement at zenith</text>
<text x="1142.8" y="90.2" font-size="11.1" text-anchor="start" textLength="243.5" lengthAdjust="spacingAndGlyphs" >SKA-Low requirement (average above 45<tspan font-size="8" dy="-4" font-style="italic">o</tspan><tspan dy="4">)</tspan></text>
<text x="1142.8" y="107.5" font-size="11.1" text-anchor="start" textLength="168" lengthAdjust="spacingAndGlyphs" >Table 9 in Braun et al. (2019)</text>
<ellipse cx="1122" cy="17.3" rx="2.0" ry="1.7" fill="#008000"/>
<path d="M1120.6 33.6L1123.4 36.4M1120.6 36.4L1123.4 33.6" stroke="#ff0000" stroke-width="0.8"/>
<ellipse cx="1122" cy="51.7" rx="0.7" ry="1.6" fill="#0000ff"/>
<path d="M400.4 69.5H423" transform="translate(710 0)" stroke="#ffa500" stroke-width="1" stroke-dasharray="3.7 2.3"/>
<path d="M400.4 87.5H423" transform="translate(710 0)" stroke="#ff0000" stroke-width="1" stroke-dasharray="1 2.1"/>
<path d="M400.4 105.5H423" transform="translate(710 0)" stroke="#ff00ff" stroke-width="1" stroke-dasharray="3.7 2.3"/>
<text x="757.9" y="286.6" font-size="14.3" text-anchor="end" textLength="21.6" lengthAdjust="spacingAndGlyphs" >0.0</text>
<text x="757.9" y="250.1" font-size="14.3" text-anchor="end" textLength="21.6" lengthAdjust="spacingAndGlyphs" >0.5</text>
<text x="757.9" y="213.1" font-size="14.3" text-anchor="end" textLength="21.6" lengthAdjust="spacingAndGlyphs" >1.0</text>
<text x="757.9" y="175.9" font-size="14.3" text-anchor="end" textLength="21.6" lengthAdjust="spacingAndGlyphs" >1.5</text>
<text x="757.9" y="139.1" font-size="14.3" text-anchor="end" textLength="21.6" lengthAdjust="spacingAndGlyphs" >2.0</text>
<text x="757.9" y="101.9" font-size="14.3" text-anchor="end" textLength="21.6" lengthAdjust="spacingAndGlyphs" >2.5</text>
<text x="757.9" y="65" font-size="14.3" text-anchor="end" textLength="21.6" lengthAdjust="spacingAndGlyphs" >3.0</text>
<text x="757.9" y="27.9" font-size="14.3" text-anchor="end" textLength="21.6" lengthAdjust="spacingAndGlyphs" >3.5</text>
<text x="807.9" y="294.8" font-size="13.9" text-anchor="end" textLength="88" lengthAdjust="spacingAndGlyphs" transform="rotate(-30 807.9 294.8)">07/04 13:00</text>
<text x="908.4" y="294.8" font-size="13.9" text-anchor="end" textLength="88" lengthAdjust="spacingAndGlyphs" transform="rotate(-30 908.4 294.8)">07/04 17:00</text>
<text x="1008.9" y="294.8" font-size="13.9" text-anchor="end" textLength="88" lengthAdjust="spacingAndGlyphs" transform="rotate(-30 1008.9 294.8)">07/04 21:00</text>
<text x="1109.6" y="294.8" font-size="13.9" text-anchor="end" textLength="88" lengthAdjust="spacingAndGlyphs" transform="rotate(-30 1109.6 294.8)">08/04 01:00</text>
<text x="1209.9" y="294.8" font-size="13.9" text-anchor="end" textLength="88" lengthAdjust="spacingAndGlyphs" transform="rotate(-30 1209.9 294.8)">08/04 05:00</text>
<text x="1310.6" y="294.8" font-size="13.9" text-anchor="end" textLength="88" lengthAdjust="spacingAndGlyphs" transform="rotate(-30 1310.6 294.8)">08/04 09:00</text>
<text x="1079.7" y="356.4" font-size="17.2" text-anchor="middle" textLength="95.5" lengthAdjust="spacingAndGlyphs" >Time [UTC]</text>
<text x="728.5" y="142.3" font-size="16.67" text-anchor="middle" textLength="194.5" lengthAdjust="spacingAndGlyphs" transform="rotate(-90 728.5 142.3)">Sensitivity A / T [m<tspan font-size="11.5" dy="-6">2</tspan><tspan dy="6">/K]</tspan></text>
</svg></body></html>
